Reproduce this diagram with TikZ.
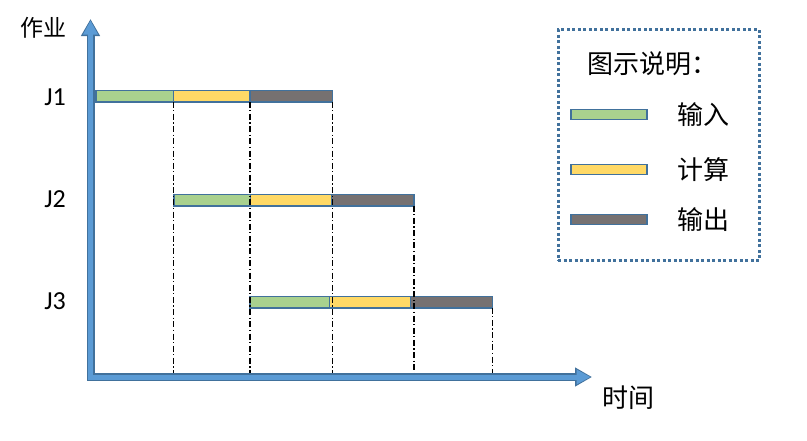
\documentclass[tikz,border=0pt]{standalone}
\usepackage{fontspec}
\setmainfont{Carlito}
\newfontfamily\cjk{Noto Sans CJK SC}
\usetikzlibrary{arrows.meta, positioning}

\definecolor{ingreen}{HTML}{A9D18E}
\definecolor{calcyellow}{HTML}{FFD966}
\definecolor{outgray}{HTML}{767171}
\definecolor{barblue}{HTML}{41719C}
\definecolor{axisblue}{HTML}{5B9BD5}

\tikzset{
  bar/.style={draw=barblue, line width=1.5pt, minimum height=11.5pt, inner sep=0pt, outer sep=0pt, anchor=west},
  guide/.style={black, line width=1.1pt, dash pattern=on 6pt off 2.5pt on 1.2pt off 2.5pt},
  jobtext/.style={font=\fontsize{26}{26}\selectfont},
  legendbox/.style={draw=barblue, line width=3pt, dash pattern=on 3pt off 2.5pt, inner sep=0pt}
}

\begin{document}
\begin{tikzpicture}[x=1pt,y=-1pt]
\useasboundingbox (0,0) rectangle (807,440);
\coordinate (o) at (90.5,377);
\coordinate (ytop) at (90.5,19);
\coordinate (xend) at (592,377);

% job bars
\node[bar, fill=ingreen, minimum width=77.5pt] (j1in) at (96,96) {};
\node[bar, fill=calcyellow, minimum width=76.5pt] (j1calc) at (j1in.east) {};
\node[bar, fill=outgray, minimum width=82.5pt] (j1out) at (j1calc.east) {};
\node[bar, fill=ingreen, minimum width=76.5pt] (j2in) at (174,200) {};
\node[bar, fill=calcyellow, minimum width=81pt] (j2calc) at (j2in.east) {};
\node[bar, fill=outgray, minimum width=82.5pt] (j2out) at (j2calc.east) {};
\node[bar, fill=ingreen, minimum width=79.5pt] (j3in) at (250,302) {};
\node[bar, fill=calcyellow, minimum width=81pt] (j3calc) at (j3in.east) {};
\node[bar, fill=outgray, minimum width=82pt] (j3out) at (j3calc.east) {};

% time marks
\draw[guide] (j1in.south east) -- (j1in.south east |- o);
\draw[guide] (j1calc.south east) -- (j1calc.south east |- o);
\draw[guide] (j1out.south east) -- (j1out.south east |- o);
\draw[guide] (j2out.south east) -- (j2out.south east |- o);
\draw[guide] (j3out.south east) -- (j3out.south east |- o);

% axes
\draw[line width=8pt, barblue, {Triangle[length=17pt,width=18pt]}-{Triangle[length=17pt,width=18pt]}] (ytop) |- (xend);
\draw[line width=5pt, axisblue, shorten <=1.5pt, shorten >=1.5pt, {Triangle[length=14pt,width=14pt]}-{Triangle[length=14pt,width=14pt]}] (ytop) |- (xend);

\node[font=\cjk\fontsize{23}{23}\selectfont] (ylab) at (43,28) {作业};
\node[font=\cjk\fontsize{26}{26}\selectfont] (xlab) at (628,398) {时间};
\node[jobtext] (j1) at (55,97) {J1};
\node[jobtext] (j2) at (55,199) {J2};
\node[jobtext] (j3) at (55,301) {J3};

% legend
\node[legendbox, minimum width=201pt, minimum height=231pt] (legend) at (658.5,145) {};
\node[anchor=west, font=\cjk\fontsize{26}{26}\selectfont] (title) at (584,64) {图示说明：};
\node[bar, fill=ingreen, minimum width=76pt, minimum height=10pt] (keyin) at (571,114.5) {};
\node[bar, fill=calcyellow, minimum width=76pt, minimum height=10pt] (keycalc) at (571,169.5) {};
\node[bar, fill=outgray, minimum width=76pt, minimum height=10pt] (keyout) at (571,219.5) {};
\node[anchor=west, font=\cjk\fontsize{26}{26}\selectfont] (txtin) at (674,114.5) {输入};
\node[anchor=west, font=\cjk\fontsize{26}{26}\selectfont] (txtcalc) at (674,169.5) {计算};
\node[anchor=west, font=\cjk\fontsize{26}{26}\selectfont] (txtout) at (674,219.5) {输出};
\end{tikzpicture}
\end{document}
